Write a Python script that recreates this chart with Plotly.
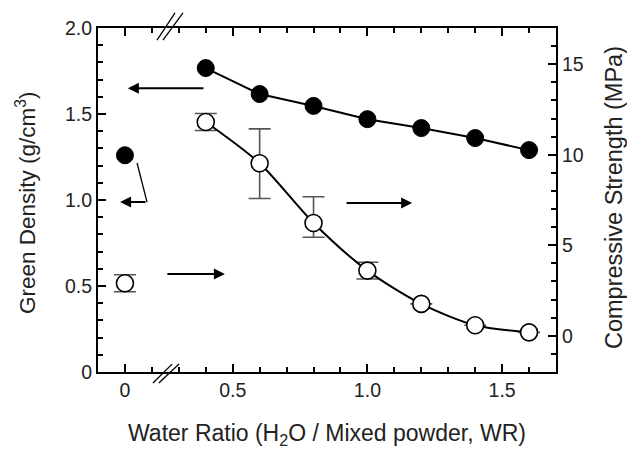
import plotly.graph_objects as go

# ---- data ----
# x positions on the (broken) axis; WR=0 is drawn at axis position 0.1
wr_labels = ["0", "0.5", "1.0", "1.5"]
wr_tickpos = [0.1, 0.5, 1.0, 1.5]

dens_x0 = [0.1]
dens_y0 = [1.26]
dens_x = [0.4, 0.6, 0.8, 1.0, 1.2, 1.4, 1.6]
dens_y = [1.767, 1.616, 1.547, 1.47, 1.418, 1.36, 1.29]

str_x0 = [0.1]
str_y0 = [2.9]
str_err0 = [0.47]
str_x = [0.4, 0.6, 0.8, 1.0, 1.2, 1.4, 1.6]
str_y = [11.81, 9.53, 6.23, 3.6, 1.76, 0.58, 0.19]
str_err_plus = [0.47, 1.9, 1.45, 0.46, 0, 0, 0]
str_err_minus = [0.47, 1.95, 0.79, 0.46, 0, 0, 0]

x_title = "Water Ratio (H<sub>2</sub>O / Mixed powder, WR)"
y_title = "Green Density (g/cm<sup>3</sup>)"
y2_title = "Compressive Strength (MPa)"

FONT = "Liberation Sans, Arial, sans-serif"
TXT = "#222222"

fig = go.Figure()

marker_filled = dict(size=17, color="black", line=dict(color="black", width=1))
marker_open = dict(size=17, color="white", line=dict(color="black", width=1.6))

fig.add_trace(go.Scatter(x=dens_x, y=dens_y, mode="lines+markers",
                         line=dict(color="black", width=2), marker=marker_filled,
                         yaxis="y", showlegend=False))
fig.add_trace(go.Scatter(x=dens_x0, y=dens_y0, mode="markers", marker=marker_filled,
                         yaxis="y", showlegend=False))

err_style = dict(color="#555555", thickness=1.6, width=11)
fig.add_trace(go.Scatter(x=str_x, y=str_y, mode="lines+markers",
                         line=dict(color="black", width=2, shape="spline", smoothing=0.8),
                         marker=marker_open,
                         error_y=dict(type="data", symmetric=False, array=str_err_plus,
                                      arrayminus=str_err_minus, **err_style),
                         yaxis="y2", showlegend=False))
fig.add_trace(go.Scatter(x=str_x0, y=str_y0, mode="markers", marker=marker_open,
                         error_y=dict(type="data", array=str_err0, **err_style),
                         yaxis="y2", showlegend=False))

# ---- arrows (tail -> head, in data coords of left axis) ----
arrows = [
    ((0.397, 1.65), (0.111, 1.65)),
    ((0.182, 0.988), (0.082, 0.988)),
    ((0.252, 0.57), (0.471, 0.57)),
    ((0.917, 0.983), (1.166, 0.983)),
]
for (tx, ty), (hx, hy) in arrows:
    fig.add_annotation(x=hx, y=hy, ax=tx, ay=ty, xref="x", yref="y", axref="x", ayref="y",
                       text="", showarrow=True, arrowhead=2, arrowsize=1.1,
                       arrowwidth=2, arrowcolor="black")
# leader line of bent arrow
fig.add_shape(type="line", x0=0.145, y0=1.215, x1=0.182, y1=0.988, xref="x", yref="y",
              line=dict(color="black", width=1.3))

# ---- axis break marks ----
breaks = [
    ((0.219, 0.965), (0.286, 1.044)),
    ((0.241, 0.965), (0.3155, 1.044)),
    ((0.204, -0.032), (0.275, 0.023)),
    ((0.226, -0.032), (0.3007, 0.023)),
]
for (x0, y0), (x1, y1) in breaks:
    fig.add_shape(type="line", x0=x0, y0=y0, x1=x1, y1=y1, xref="x", yref="paper",
                  line=dict(color="black", width=1.3))

# ---- axis titles as annotations ----
fig.add_annotation(text=x_title, xref="paper", yref="paper", x=0.5, y=0,
                   xanchor="center", yanchor="middle", yshift=-62, showarrow=False,
                   font=dict(size=23, color=TXT, family=FONT))
fig.add_annotation(text=y_title, xref="paper", yref="paper", x=0, y=0.5,
                   xanchor="center", yanchor="middle", xshift=-72, yshift=-3,
                   textangle=-90, showarrow=False,
                   font=dict(size=22.5, color=TXT, family=FONT))
fig.add_annotation(text=y2_title, xref="paper", yref="paper", x=1, y=0.5,
                   xanchor="center", yanchor="middle", xshift=58, yshift=2,
                   textangle=-90, showarrow=False,
                   font=dict(size=23.5, color=TXT, family=FONT))

tick_common = dict(ticks="inside", ticklen=8, tickwidth=1.5, tickcolor="black",
                   showline=True, linewidth=2, linecolor="black",
                   showgrid=False, zeroline=False,
                   tickfont=dict(size=19.5, color=TXT, family=FONT))

fig.update_layout(
    width=627, height=449,
    margin=dict(l=98, r=71, t=28, b=77),
    paper_bgcolor="white", plot_bgcolor="white",
    font=dict(family=FONT, size=19, color=TXT),
    xaxis=dict(range=[0, 1.7], tickvals=wr_tickpos, ticktext=wr_labels, mirror="ticks",
               minor=dict(dtick=0.1, tick0=0, ticks="inside", ticklen=5, tickwidth=1.5,
                          tickcolor="black", showgrid=False),
               **tick_common),
    yaxis=dict(range=[0, 2.0], tickvals=[0, 0.5, 1.0, 1.5, 2.0],
               ticktext=["0", "0.5", "1.0", "1.5", "2.0"],
               minor=dict(dtick=0.1, tick0=0, ticks="inside", ticklen=5, tickwidth=1.5,
                          tickcolor="black", showgrid=False),
               **tick_common),
    yaxis2=dict(range=[-2, 17], overlaying="y", side="right",
                tickvals=[0, 5, 10, 15], ticktext=["0", "5", "10", "15"],
                minor=dict(dtick=1, tick0=0, ticks="inside", ticklen=5, tickwidth=1.5,
                           tickcolor="black", showgrid=False),
                **tick_common),
)

fig.write_html("out.html")
